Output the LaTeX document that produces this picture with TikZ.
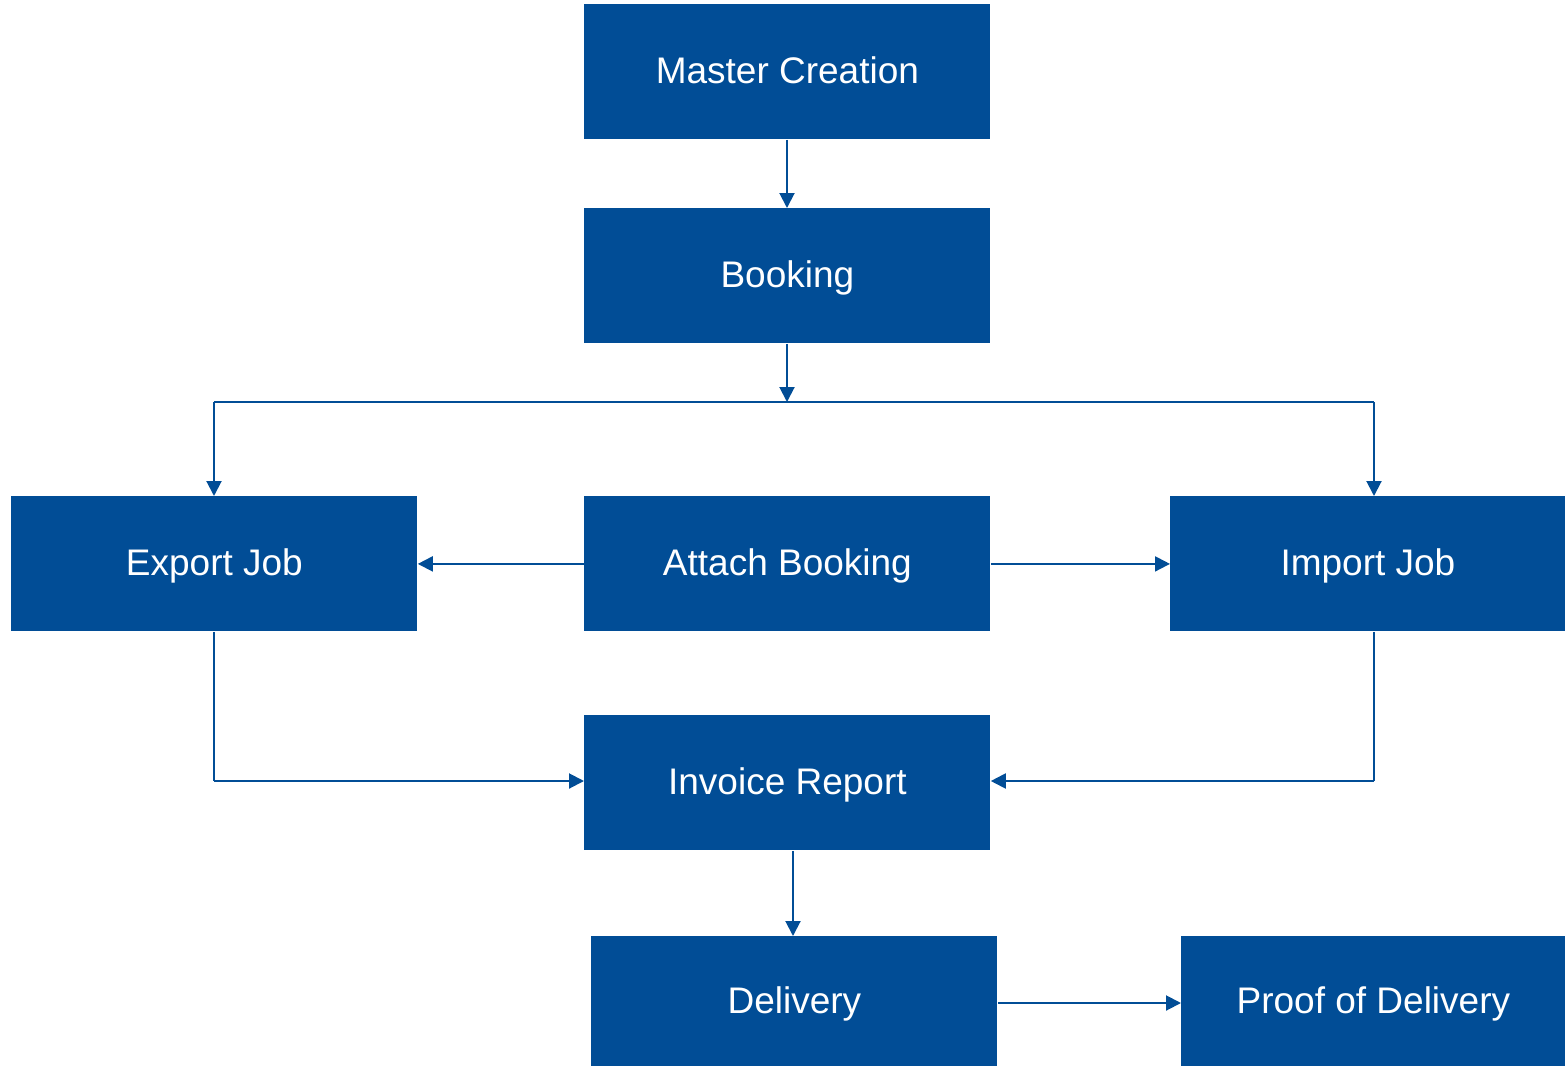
\documentclass[tikz,border=0pt]{standalone}
\usepackage{fontspec}
\setmainfont{Liberation Sans}
\usetikzlibrary{arrows.meta}
\definecolor{boxblue}{HTML}{014D96}
\begin{document}
\begin{tikzpicture}[x=0.5pt,y=-0.5pt,
  box/.style={fill=boxblue,draw=none,minimum width=203pt,minimum height=67.5pt,inner sep=0pt,text=white,font=\fontsize{18.5}{22}\selectfont,anchor=north west,text height=16pt,text depth=4pt},
  conn/.style={draw=boxblue,line width=1pt,-{Triangle[length=7.5pt,width=7.5pt]}},
  plain/.style={draw=boxblue,line width=0.8pt}]
\useasboundingbox (0,0) rectangle (1565,1066);
\node[box] (master) at (584,4) {Master Creation};
\node[box] (booking) at (584,208) {Booking};
\node[box] (export) at (11,496) {Export Job};
\node[box] (attach) at (584,496) {Attach Booking};
\node[box,minimum width=197.5pt] (import) at (1170,496) {Import Job};
\node[box] (invoice) at (584,715) {Invoice Report};
\node[box,minimum height=65pt] (delivery) at (591,936) {Delivery};
\node[box,minimum width=192pt,minimum height=65pt] (proof) at (1181,936) {Proof of Delivery};
\coordinate (j) at (787,402);
\coordinate (jl) at (214,402);
\coordinate (jr) at (1374,402);
\coordinate (el) at (214,781);
\coordinate (er) at (1374,781);
\coordinate (dv) at (793,1003);
\draw[conn] (master.south -| j) -- (booking.north -| j);
\draw[conn] (booking.south -| j) -- (j);
\draw[plain] (jl) -- (jr);
\draw[conn] (jl) -- (export.north -| jl);
\draw[conn] (jr) -- (import.north -| jr);
\draw[conn] (attach.west) -- (export.east);
\draw[conn] (attach.east) -- (import.west);
\draw[plain] (export.south -| el) -- (el);
\draw[conn] (el) -- (el -| invoice.west);
\draw[plain] (import.south -| er) -- (er);
\draw[conn] (er) -- (er -| invoice.east);
\draw[conn] (invoice.south -| dv) -- (delivery.north -| dv);
\draw[conn] (delivery.east |- dv) -- (proof.west |- dv);
\end{tikzpicture}
\end{document}
